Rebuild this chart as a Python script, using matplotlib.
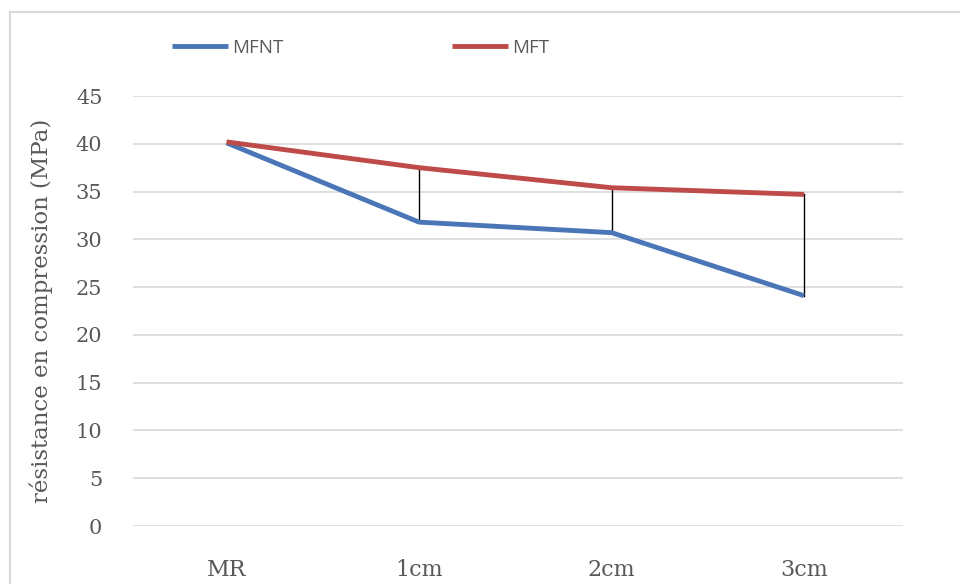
import matplotlib
matplotlib.use("Agg")
from matplotlib import pyplot as plt
from matplotlib.patches import Rectangle

categories = ["MR", "1cm", "2cm", "3cm"]
mfnt = [40.1, 31.8, 30.7, 24.1]
mft = [40.2, 37.5, 35.4, 34.7]
y_ticks = [0, 5, 10, 15, 20, 25, 30, 35, 40, 45]

blue = "#4a76b8"
red = "#be4b48"
grey_text = "#595959"
serif = "DejaVu Serif"

fig = plt.figure(figsize=(9.6, 5.84), dpi=100)
ax = fig.add_axes([133 / 960, 1 - 526 / 584, 770 / 960, 430 / 584])

# outer chart frame (partly cut off at right and bottom)
fig.patches.append(Rectangle((10 / 960, -0.05), 1.0, 1 - 12 / 584 + 0.05,
                             transform=fig.transFigure, fill=False,
                             edgecolor="#d9d9d9", linewidth=1.5))

x = list(range(len(categories)))

# high-low lines between the two series
for xi, lo, hi in zip(x, mfnt, mft):
    if xi == 0:
        continue
    ax.plot([xi, xi], [lo, hi], color="black", linewidth=1, zorder=2)

ax.plot(x, mfnt, color=blue, linewidth=3.5, label="MFNT", zorder=3,
        solid_capstyle="butt")
ax.plot(x, mft, color=red, linewidth=3.5, label="MFT", zorder=3,
        solid_capstyle="butt")

ax.set_xlim(-0.486, 3.514)
ax.set_ylim(0, 45)
ax.set_yticks(y_ticks)
ax.set_xticks(x)
ax.set_xticklabels(categories, family=serif, fontsize=16, color=grey_text)
for lbl in ax.get_yticklabels():
    lbl.set_family(serif)
    lbl.set_fontsize(15)
    lbl.set_color(grey_text)
ax.tick_params(axis="y", length=0, pad=22)
ax.tick_params(axis="x", length=0, pad=24)
ax.grid(axis="y", color="#d9d9d9", linewidth=1.2)
ax.set_axisbelow(True)
for s in ax.spines.values():
    s.set_visible(False)

ax.set_ylabel("résistance en compression (MPa)", family=serif,
              fontsize=16.5, color=grey_text, labelpad=16)

# legend entries placed across the top
leg = fig.legend(handles=ax.get_lines()[-2:], labels=["MFNT", "MFT"],
                 loc="center left", bbox_to_anchor=(172 / 960, 1 - 48 / 584),
                 ncol=2, frameon=False, columnspacing=9.0, handlelength=3.0,
                 handletextpad=0.2, borderpad=0, borderaxespad=0,
                 prop={"family": "Open Sans", "size": 13.5})
for t in leg.get_texts():
    t.set_color(grey_text)

fig.savefig("out.png", dpi=100)
